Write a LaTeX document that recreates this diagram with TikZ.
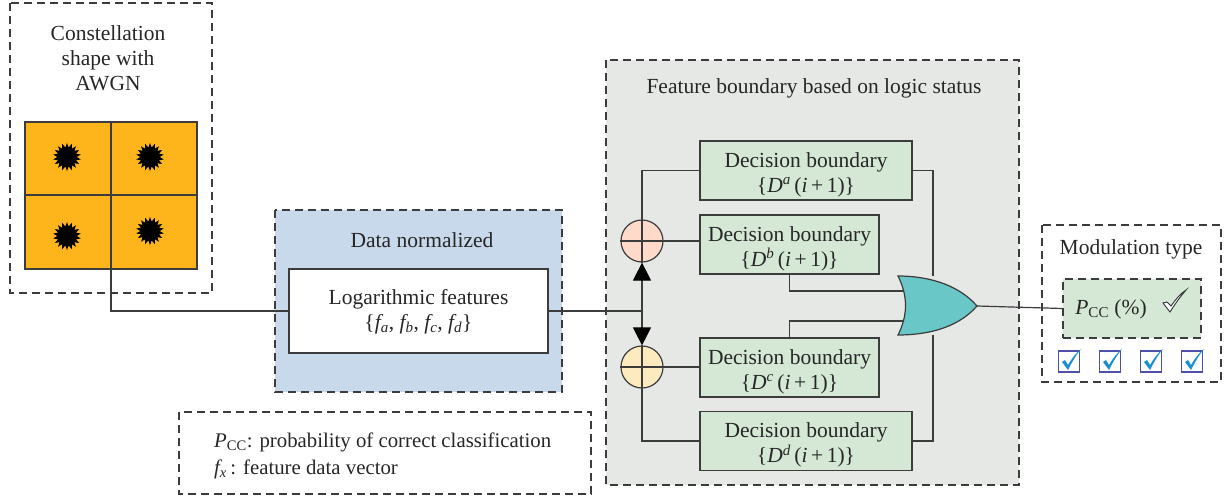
\documentclass[tikz,border=0pt]{standalone}
\usepackage{fontspec}
\setmainfont{Liberation Serif}
\usetikzlibrary{calc, shapes.geometric, arrows.meta}

\definecolor{framegray}{HTML}{3C3C3C}
\definecolor{orangefill}{HTML}{FDB51B}
\definecolor{bluefill}{HTML}{C9D9EC}
\definecolor{grayfill}{HTML}{E6E8E6}
\definecolor{greenfill}{HTML}{D5E8D6}
\definecolor{pinkfill}{HTML}{FFD9C9}
\definecolor{yellowfill}{HTML}{FDEBBF}
\definecolor{gatefill}{HTML}{69C7C7}
\definecolor{tickblue}{HTML}{1B8FD6}
\definecolor{tickframe}{HTML}{4D4FA8}

\newcommand{\ptext}{\textit{P}\textsubscript{CC}}
\newcommand{\dbound}[1]{\{\textit{D}\textsuperscript{\textit{#1}}\,(\textit{i}\,+\,1)\}}

\tikzset{
    lbl/.style={font=\fontsize{21.5}{25}\selectfont, text=black!85, align=center, inner sep=0pt},
    dashframe/.style={draw=framegray, line width=1.2pt, dash pattern=on 8pt off 5pt},
    decbox/.style={draw=framegray, line width=1.2pt, fill=greenfill, minimum height=59pt, inner sep=0pt},
    addcirc/.style={circle, draw=framegray, line width=1.2pt, minimum size=42pt, inner sep=0pt},
    conn/.style={draw=framegray, line width=1.2pt},
    tickbox/.style={draw=tickframe, line width=1.3pt, fill=white, minimum size=21pt, inner sep=0pt},
    burst/.style={star, star points=18, star point ratio=1.45, fill=black, inner sep=0pt, minimum size=28pt}
}

\begin{document}
\begin{tikzpicture}[x=1pt, y=-1pt]
    \useasboundingbox (0,0) rectangle (1226,498);

    % Dashed frames and their backgrounds
    \draw[dashframe] (10,3) rectangle (212,293);
    \draw[dashframe, fill=bluefill] (275,210) rectangle (562,392);
    \draw[dashframe, fill=grayfill] (606,60) rectangle (1019,485);
    \draw[dashframe] (1042,225) rectangle (1221,382);
    \draw[dashframe] (179,412) rectangle (591,494);

    % Constellation grid with one burst per quadrant
    \draw[draw=framegray, line width=1.2pt, fill=orangefill] (25,122) rectangle (197,269);
    \draw[conn] (111,122) -- (111,269);
    \draw[conn] (25,195) -- (197,195);
    \node[burst] (s1) at (67,157) {};
    \node[burst] (s2) at (150,157) {};
    \node[burst] (s3) at (67,236) {};
    \node[burst] (s4) at (150,231) {};
    \coordinate (gridout) at (111,269);

    % Titles
    \node[lbl] (consttitle) at (108,58) {Constellation\\shape with\\AWGN};
    \node[lbl] (normtitle) at (422,240) {Data normalized};
    \node[lbl] (feattitle) at (814,88) {Feature boundary based on logic status};
    \node[lbl] (modtitle) at (1131,249) {Modulation type};

    % Feature box
    \node[draw=framegray, line width=1.2pt, fill=white, minimum width=259pt, minimum height=84pt] (logf) at (418.5,311) {};
    \node[lbl] (logftext) at (418.5,311.5)
        {Logarithmic features\\\{\textit{f\textsubscript{a}}, \textit{f\textsubscript{b}}, \textit{f\textsubscript{c}}, \textit{f\textsubscript{d}}\}};

    % Decision boundaries
    \node[decbox, minimum width=212pt] (da) at (806,170.5) {};
    \node[decbox, minimum width=179pt] (db) at (789.5,244.5) {};
    \node[decbox, minimum width=179pt] (dc) at (789.5,367.5) {};
    \node[decbox, minimum width=212pt] (dd) at (806,441) {};
    \foreach \dbox/\letter in {da/a, db/b, dc/c, dd/d}
        \node[lbl] at ($(\dbox.center)+(0,4)$) {Decision boundary\\\dbound{\letter}};

    % Adders
    \node[addcirc, fill=pinkfill] (addup) at (642,241) {};
    \node[addcirc, fill=yellowfill] (addlow) at (642,367) {};
    \foreach \adder in {addup, addlow} {
        \draw[conn] (\adder.north) -- (\adder.south);
        \draw[conn] (\adder.west) -- (\adder.east);
    }

    % Logic gate
    \coordinate (gtop) at (898,276);
    \coordinate (gbot) at (898,335);
    \coordinate (gout) at (977,306);
    \coordinate (gin1) at (904,291);
    \coordinate (gin2) at (904,321);
    \draw[draw=framegray, line width=1.2pt, fill=gatefill] (gtop) .. controls (925,276) and (957,283) .. (gout)
        .. controls (957,329) and (925,335) .. (gbot)
        .. controls (908,315) and (908,296) .. (gtop) -- cycle;

    % Output box
    \node[dashframe, fill=greenfill, minimum width=138pt, minimum height=59pt] (pcc) at (1132,308.5) {};
    \node[lbl] (pcctext) at (1111,309) {\ptext\ (\%)};
    \draw[draw=black!80, line width=.9pt, fill=white] (1163,303) -- (1167,302) -- (1171,306)
        .. controls (1176,299) and (1180,294) .. (1186,290)
        .. controls (1180,297) and (1175,304) .. (1170,312) -- cycle;

    % Small tick boxes
    \foreach \tx/\name in {1069/t1, 1110/t2, 1151/t3, 1192/t4} {
        \node[tickbox] (\name) at (\tx,361.5) {};
        \fill[tickblue] (\tx-7,362) -- (\tx-4,360) -- (\tx-1,365)
            .. controls (\tx+3,358) and (\tx+7,353) .. (\tx+12,349)
            .. controls (\tx+7,355) and (\tx+3,362) .. (\tx-1,370) -- cycle;
    }

    % Connectors
    \coordinate (junction) at (addup.south |- logf.east);
    \draw[conn] (gridout) |- (logf.west);
    \draw[conn] (logf.east) -- (junction);
    \draw[conn, -{Triangle[length=18pt, width=18pt, black]}] (junction) -- (addup.south);
    \draw[conn, -{Triangle[length=18pt, width=18pt, black]}] (junction) -- (addlow.north);
    \draw[conn] (addup.north) |- (da.west);
    \draw[conn] (addlow.south) |- (dd.west);
    \draw[conn] (addup.east) -- (addup.east -| db.west);
    \draw[conn] (addlow.east) -- (addlow.east -| dc.west);
    \draw[conn] (da.east) -| (933,276);
    \draw[conn] (dd.east) -| (933,335);
    \draw[conn] (db.south) |- (gin1);
    \draw[conn] (dc.north) |- (gin2);
    \draw[conn] (gout) -- (pcc.west);

    % Legend
    \node[lbl, font=\fontsize{20.8}{25}\selectfont, align=left, anchor=west] (legend) at (214,455.5) {\ptext: probability of correct classification\\[2pt]\textit{f\textsubscript{x}}\,: feature data vector};
\end{tikzpicture}
\end{document}
